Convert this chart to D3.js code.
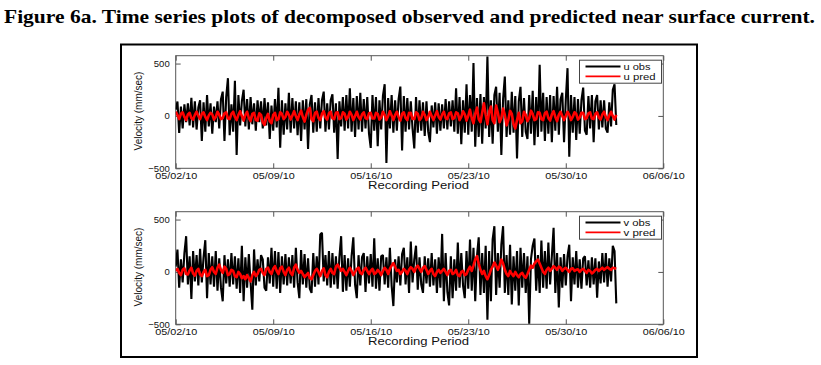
<!DOCTYPE html>
<html><head><meta charset="utf-8">
<script src="https://cdn.jsdelivr.net/npm/d3@7"></script>
<style>body{margin:0;background:#fff}</style>
</head><body><svg id="c" width="821" height="365"></svg>
<script>
// ---------- data ----------
const titleText = "Figure 6a. Time series plots of decomposed observed and predicted near surface current.";
const xTickDates = ["2010-05-02","2010-05-09","2010-05-16","2010-05-23","2010-05-30","2010-06-06"];
const yTicks = [-500, 0, 500];
const seriesStart = "2010-05-02T00:00:00";
const sampleHours = 3;
const xLabel = "Recording Period";
const yLabel = "Velocity (mm/sec)";

const uObs = [60,137,-163,90,-120,110,-60,120,
-90,172,-110,140,-130,80,150,-240,
130,-150,200,-100,120,-170,90,-60,
140,-120,160,232,-240,180,360,-185,
110,-150,335,-373,200,-90,140,250,
-100,160,-130,180,-80,120,-140,150,
-60,140,-120,170,-90,130,-220,100,
-140,160,-110,268,-303,150,-180,120,
-130,220,-160,170,-120,140,-185,130,
-240,150,-130,160,-315,110,200,-160,
130,-150,170,-120,150,232,-150,120,
-130,150,207,-160,120,-411,140,-100,
180,-140,200,-120,265,-150,170,-200,
190,-130,220,-150,160,-120,180,-170,
-306,200,-140,180,-290,150,-130,190,
303,-450,170,-120,200,-160,150,-140,
160,280,-330,190,-150,170,-130,140,
-120,-310,180,-160,150,-140,130,-190,
140,-150,-250,100,-110,130,-170,120,
-140,110,-120,160,-130,140,-100,150,
-150,265,-170,180,-270,150,-160,303,
-180,200,-150,504,-293,170,-200,210,
-265,180,-120,567,-200,150,-265,200,
278,-150,220,-373,160,376,-200,150,
-180,230,-160,190,-405,140,278,-200,
170,-150,-220,200,-170,240,-280,180,
-200,488,-150,220,-240,180,-170,200,
-250,190,-140,278,-180,160,220,-250,
150,456,-389,200,-160,180,-230,160,
-170,150,270,-140,-180,190,-120,200,
-250,140,200,-130,150,-110,150,-120,
-160,130,-100,250,303,-86];

const uPred = [40,10,-30,20,35,-10,-40,15,
30,-20,-35,10,40,0,-30,20,
35,-10,-40,5,30,15,-35,-10,
40,10,-30,-20,25,35,-25,-30,
20,40,-10,-40,10,45,0,-45,
10,40,-20,-50,20,30,-40,-45,
25,10,-60,-86,-20,20,-50,-70,
10,30,-40,-30,35,20,-30,-10,
40,10,-35,5,45,0,-40,15,
50,-10,-54,10,60,76,-30,-50,
30,40,-20,-40,20,45,-15,-35,
25,40,-25,-30,30,35,-30,-20,
35,20,-35,-10,40,10,-40,0,
40,-10,-35,15,35,-20,-30,25,
30,-25,-25,30,20,-35,-15,40,
10,-40,0,45,5,-40,10,40,
-10,-45,20,35,-20,-40,30,30,
-30,-30,35,20,-40,-20,40,10,
-40,-10,40,0,-40,5,45,-10,
-35,15,40,-20,-30,25,35,-30,
-20,35,25,-40,-10,45,15,-45,
0,60,-20,-70,20,80,-30,-60,
30,120,10,-80,40,90,-40,-70,
100,30,-60,-20,70,10,-90,-40,
50,20,-80,-120,-40,30,-70,-50,
40,10,-50,-20,50,20,-40,-30,
35,30,-30,-40,25,40,-20,-45,
15,45,-10,-50,10,40,0,-40,
0,40,10,-40,-10,35,20,-35,
-15,30,30,-30,-20,25,35,-25,
-30,20,35,-15,-35,15,40,-10,
-40,5,40,0,-35,10];

const vObs = [50,214,-150,120,-100,180,341,-120,
150,-259,200,-90,160,-130,220,-100,
140,303,-250,180,-120,150,-140,200,
-180,130,-150,-280,160,-110,120,-140,
180,-120,150,-160,130,-200,250,-280,
140,-150,170,-100,-361,215,-130,120,
-90,160,120,-150,-180,140,-110,230,
-140,200,-160,190,-200,150,-120,170,
-130,140,-110,160,-150,230,-100,-250,
210,-120,170,-150,130,-160,-200,180,
-140,150,-120,357,373,-90,160,-130,
200,-150,180,-120,150,-160,140,341,
-190,160,-180,130,-140,150,331,-120,
-250,160,-130,140,180,-190,150,-110,
170,-140,322,-160,130,-180,150,160,
-120,140,-150,230,-130,-326,120,-100,
150,-130,170,230,-120,140,-200,290,
-100,120,250,-170,140,-120,-200,150,
-110,130,-140,180,-130,120,-200,140,
-150,363,-280,180,-190,-320,150,-250,
120,-180,280,-150,180,-130,-250,200,
-160,310,-180,230,-280,150,330,-220,
180,-200,250,-457,200,-280,310,437,
-220,180,-150,260,437,-200,160,-220,
260,-310,150,-180,200,-320,230,-150,
180,-200,150,-495,120,250,320,-180,
160,-200,300,-150,200,-160,280,-120,
150,421,-200,180,-340,140,-150,170,
-130,150,260,-280,140,-120,200,-150,
120,-160,130,150,-130,110,-150,140,
-120,130,-247,100,-110,180,-100,180,
-140,130,-90,250,200,-300];

const vPred = [10,30,-10,-30,20,35,-20,-25,
15,40,-15,-35,10,30,-25,-40,
0,20,-40,-30,20,45,0,-20,
40,70,20,-10,50,30,-30,-20,
20,10,-40,-50,0,-20,-60,-40,
-70,-30,-60,-90,-30,0,-40,-20,
20,30,-10,-30,30,40,0,-20,
30,55,10,-20,35,50,0,-30,
20,40,-10,-30,40,70,20,-10,
10,-20,-50,-30,-10,-60,-70,-30,
10,30,0,-40,10,35,-30,-50,
0,30,-10,-20,50,70,40,10,
30,0,-30,10,40,10,-30,0,
30,40,-10,-20,20,40,10,-20,
10,30,-20,-10,20,0,-30,10,
40,20,-20,30,60,85,50,10,
20,-20,0,30,10,-20,20,45,
30,0,40,60,30,0,40,55,
20,-20,10,30,-20,-40,0,20,
-10,10,30,0,-30,10,20,-20,
-10,20,-30,-40,0,10,-30,-20,
20,50,10,60,120,150,80,20,
-20,10,-40,-70,-30,20,50,90,
60,20,60,118,80,20,-20,-40,
10,-20,-40,0,-30,-50,-20,-10,
-40,-55,-20,20,60,40,80,100,
118,80,40,0,-20,20,40,10,
30,55,40,20,50,40,10,30,
40,20,0,30,35,10,20,25,
0,20,30,10,-10,20,10,-15,
0,20,30,10,25,40,20,35,
45,30,20,40,35,30];

const panelObs = [uObs, vObs];
const panelPred = [uPred, vPred];
const legendNames = [["u obs","u pred"],["v obs","v pred"]];

// ---------- layout ----------
const W = 821, H = 365;
const plotLeft = 175.7, plotRight = 663.3;
const panelTops = [55.7, 211.7];
const panelH = 112.6;
const sans = "'Liberation Sans', Arial, Helvetica, sans-serif";

const svg = d3.select("#c");
svg.append("rect").attr("width", W).attr("height", H).attr("fill", "#fff");

svg.append("text")
  .attr("x", 4).attr("y", 23)
  .attr("font-family", "'Liberation Serif', 'Times New Roman', serif")
  .attr("font-weight", "bold").attr("font-size", 19)
  .attr("textLength", 811).attr("lengthAdjust", "spacingAndGlyphs")
  .attr("fill", "#000")
  .text(titleText);

svg.append("rect")
  .attr("x", 121).attr("y", 44.5).attr("width", 576).attr("height", 312.5)
  .attr("fill", "none").attr("stroke", "#000").attr("stroke-width", 2);

const parseDay = d3.timeParse("%Y-%m-%d");
const tickDates = xTickDates.map(parseDay);
const t0 = d3.timeParse("%Y-%m-%dT%H:%M:%S")(seriesStart);
const timeAt = i => d3.timeHour.offset(t0, i * sampleHours);
const fmt = d3.timeFormat("%m/%d/%y");

panelTops.forEach((top, p) => {
  const bottom = top + panelH;
  const x = d3.scaleTime().domain([tickDates[0], tickDates[tickDates.length - 1]]).range([plotLeft, plotRight]);
  const y = d3.scaleLinear().domain([-500, 575]).range([bottom, top]);
  const g = svg.append("g");

  const clipId = "clip" + p;
  svg.append("clipPath").attr("id", clipId).append("rect")
    .attr("x", plotLeft).attr("y", top).attr("width", plotRight - plotLeft).attr("height", panelH);

  const styleAxis = sel => {
    sel.select(".domain").remove();
    sel.selectAll(".tick line").attr("stroke", "#555");
    sel.selectAll("text").attr("font-family", sans).attr("fill", "#111");
  };
  g.append("g").attr("transform", `translate(0,${bottom})`)
    .call(d3.axisBottom(x).tickValues(tickDates).tickFormat(fmt).tickSizeInner(-5).tickSizeOuter(0).tickPadding(4))
    .call(styleAxis)
    .call(s => s.selectAll("text").attr("font-size", 9.5).attr("textLength", 42).attr("lengthAdjust", "spacingAndGlyphs"));
  g.append("g").attr("transform", `translate(0,${top})`)
    .call(d3.axisTop(x).tickValues(tickDates).tickFormat("").tickSizeInner(-5).tickSizeOuter(0))
    .call(styleAxis);
  g.append("g").attr("transform", `translate(${plotLeft},0)`)
    .call(d3.axisLeft(y).tickValues(yTicks).tickFormat(d3.format("d")).tickSizeInner(-5).tickSizeOuter(0).tickPadding(6))
    .call(styleAxis)
    .call(s => s.selectAll("text").attr("font-size", 9.5));
  g.append("g").attr("transform", `translate(${plotRight},0)`)
    .call(d3.axisRight(y).tickValues(yTicks).tickFormat("").tickSizeInner(-5).tickSizeOuter(0))
    .call(styleAxis);

  g.append("rect").attr("x", plotLeft).attr("y", top)
    .attr("width", plotRight - plotLeft).attr("height", panelH)
    .attr("fill", "none").attr("stroke", "#555").attr("stroke-width", 1);

  const line = d3.line().x((d, i) => x(timeAt(i))).y(d => y(d));
  const lg = g.append("g").attr("clip-path", `url(#${clipId})`);
  lg.append("path").datum(panelObs[p]).attr("d", line)
    .attr("fill", "none").attr("stroke", "#000").attr("stroke-width", 2.1).attr("stroke-linejoin", "bevel");
  lg.append("path").datum(panelPred[p]).attr("d", line)
    .attr("fill", "none").attr("stroke", "#f00").attr("stroke-width", 2.6).attr("stroke-linejoin", "round");

  g.append("text").attr("x", (plotLeft + plotRight) / 2 - 1).attr("y", bottom + 21)
    .attr("text-anchor", "middle").attr("font-family", sans).attr("font-size", 10.5)
    .attr("textLength", 101).attr("lengthAdjust", "spacingAndGlyphs").attr("fill", "#111")
    .text(xLabel);
  g.append("text").attr("transform", `translate(142,${top + panelH / 2 - 1}) rotate(-90)`)
    .attr("text-anchor", "middle").attr("font-family", sans).attr("font-size", 10).attr("fill", "#111")
    .text(yLabel);

  const lx = 579.5, ly = top + 4.5;
  const leg = g.append("g");
  leg.append("rect").attr("x", lx).attr("y", ly).attr("width", 82).attr("height", 23)
    .attr("fill", "#fff").attr("stroke", "#444").attr("stroke-width", 1);
  [["#000", 6.2], ["#f00", 16.2]].forEach(([c, dy], k) => {
    leg.append("line").attr("x1", lx + 6).attr("x2", lx + 41).attr("y1", ly + dy).attr("y2", ly + dy)
      .attr("stroke", c).attr("stroke-width", k === 0 ? 2 : 1.6);
    leg.append("text").attr("x", lx + 44).attr("y", ly + dy + 3.2)
      .attr("font-family", sans).attr("font-size", 9.5).attr("fill", "#111")
      .attr("textLength", k === 0 ? 27 : 32).attr("lengthAdjust", "spacingAndGlyphs")
      .text(legendNames[p][k]);
  });
});
</script>
</body></html>
